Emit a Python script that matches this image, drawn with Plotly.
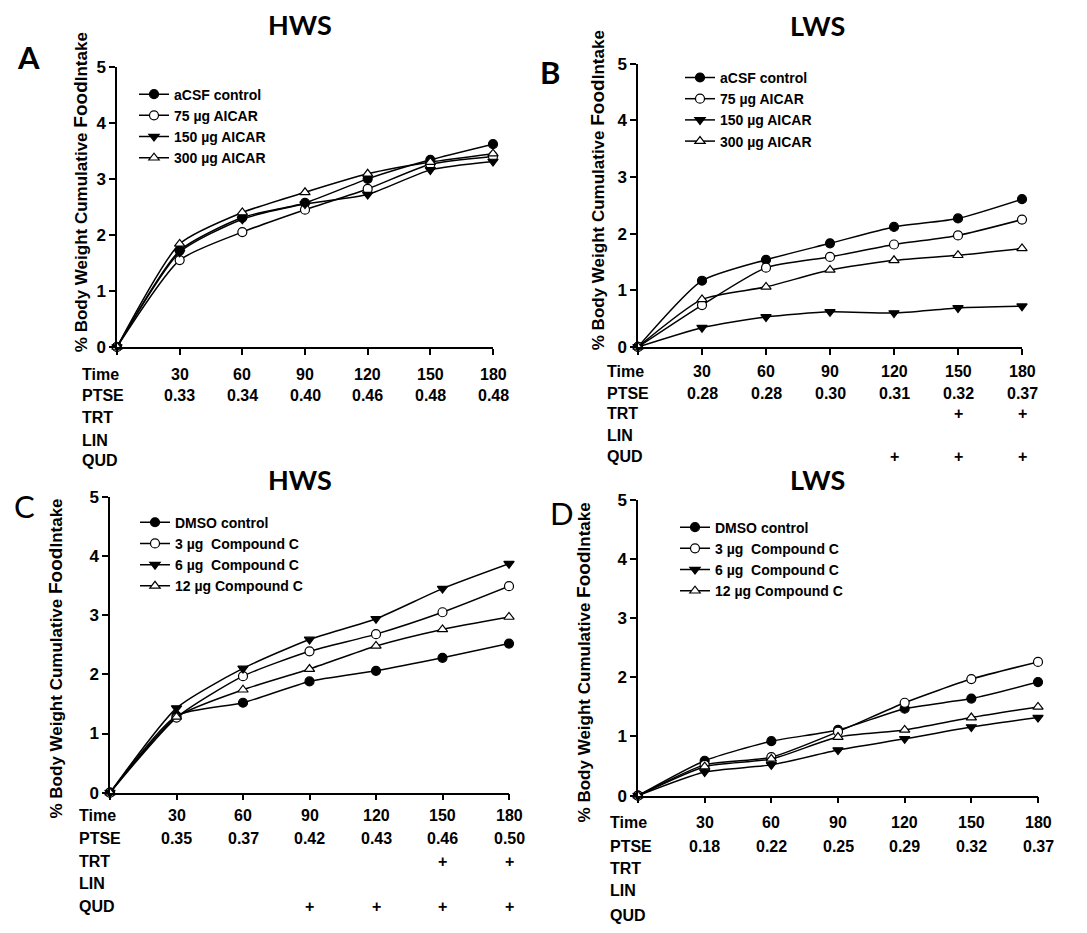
import plotly.graph_objects as go

W, H = 1087, 933

# ---------------- data ----------------
times = [0, 30, 60, 90, 120, 150, 180]
time_labels = ["30", "60", "90", "120", "150", "180"]

# Panel A (HWS, AICAR)
a_names = ["aCSF control", "75 µg AICAR", "150 µg AICAR", "300 µg AICAR"]
a_ctrl = [0, 1.72, 2.31, 2.57, 3.00, 3.34, 3.62]
a_75 = [0, 1.55, 2.05, 2.45, 2.82, 3.26, 3.40]
a_150 = [0, 1.69, 2.28, 2.55, 2.72, 3.16, 3.31]
a_300 = [0, 1.84, 2.40, 2.76, 3.09, 3.30, 3.45]
a_ptse = ["0.33", "0.34", "0.40", "0.46", "0.48", "0.48"]
a_trt = ["", "", "", "", "", ""]
a_lin = ["", "", "", "", "", ""]
a_qud = ["", "", "", "", "", ""]

# Panel B (LWS, AICAR)
b_names = ["aCSF control", "75 µg AICAR", "150 µg AICAR", "300 µg AICAR"]
b_ctrl = [0, 1.17, 1.54, 1.83, 2.12, 2.27, 2.61]
b_75 = [0, 0.74, 1.40, 1.59, 1.81, 1.97, 2.25]
b_150 = [0, 0.34, 0.53, 0.62, 0.60, 0.69, 0.72]
b_300 = [0, 0.84, 1.06, 1.36, 1.53, 1.62, 1.74]
b_ptse = ["0.28", "0.28", "0.30", "0.31", "0.32", "0.37"]
b_trt = ["", "", "", "", "+", "+"]
b_lin = ["", "", "", "", "", ""]
b_qud = ["", "", "", "+", "+", "+"]

# Panel C (HWS, Compound C)
c_names = ["DMSO control", "3 µg  Compound C", "6 µg  Compound C", "12 µg Compound C"]
c_ctrl = [0, 1.30, 1.52, 1.88, 2.06, 2.28, 2.52]
c_3 = [0, 1.27, 1.97, 2.39, 2.68, 3.05, 3.49]
c_6 = [0, 1.43, 2.10, 2.59, 2.94, 3.45, 3.87]
c_12 = [0, 1.28, 1.74, 2.09, 2.48, 2.76, 2.97]
c_ptse = ["0.35", "0.37", "0.42", "0.43", "0.46", "0.50"]
c_trt = ["", "", "", "", "+", "+"]
c_lin = ["", "", "", "", "", ""]
c_qud = ["", "", "+", "+", "+", "+"]

# Panel D (LWS, Compound C)
d_names = ["DMSO control", "3 µg  Compound C", "6 µg  Compound C", "12 µg Compound C"]
d_ctrl = [0, 0.59, 0.92, 1.11, 1.47, 1.64, 1.92]
d_3 = [0, 0.52, 0.65, 1.08, 1.57, 1.97, 2.26]
d_6 = [0, 0.40, 0.52, 0.77, 0.96, 1.16, 1.32]
d_12 = [0, 0.49, 0.62, 0.99, 1.11, 1.32, 1.50]
d_ptse = ["0.18", "0.22", "0.25", "0.29", "0.32", "0.37"]
d_trt = ["", "", "", "", "", ""]
d_lin = ["", "", "", "", "", ""]
d_qud = ["", "", "", "", "", ""]

row_names = ["Time", "PTSE", "TRT", "LIN", "QUD"]
panel_letters = ["A", "B", "C", "D"]
panel_titles = ["HWS", "LWS", "HWS", "LWS"]
ytitle = "% Body Weight Cumulative <span style='font-size:19px'>Food</span>Intake"

# ---------------- layout helpers (pixels) ----------------
def px(x):
    return x / W

def py(y):
    return 1 - y / H

panels = [
    dict(x0=117, x1=493, y0=345, y5=59, series=[a_ctrl, a_75, a_150, a_300], names=a_names,
         table=[a_ptse, a_trt, a_lin, a_qud], rows_y=[373, 395, 417, 440, 461], row_x=80,
         leg=(134, 71), letter=(28, 49), letterw="bold", title=(300, 16), ytitle=(80, 187)),
    dict(x0=638, x1=1022, y0=345, y5=56, series=[b_ctrl, b_75, b_150, b_300], names=b_names,
         table=[b_ptse, b_trt, b_lin, b_qud], rows_y=[370, 392, 413, 435, 457], row_x=605,
         leg=(680, 54), letter=(550, 64), letterw="bold", title=(817, 17), ytitle=(597, 185)),
    dict(x0=110, x1=509, y0=800, y5=498, series=[c_ctrl, c_3, c_6, c_12], names=c_names,
         table=[c_ptse, c_trt, c_lin, c_qud], rows_y=[823, 847, 870, 893, 916], row_x=77,
         leg=(135, 508), letter=(24, 507), letterw="normal", title=(300, 480), ytitle=(55, 663)),
    dict(x0=638, x1=1038, y0=803, y5=501, series=[d_ctrl, d_3, d_6, d_12], names=d_names,
         table=[d_ptse, d_trt, d_lin, d_qud], rows_y=[830, 855, 877, 900, 925], row_x=608,
         leg=(675, 513), letter=(562, 514), letterw="normal", title=(817, 480), ytitle=(583, 667)),
]

symbols = ["circle", "circle", "triangle-down", "triangle-up"]
fills = ["black", "white", "black", "white"]

FONT = "Liberation Sans, Arial, sans-serif"
TITLEFONT = "Lato, Open Sans, sans-serif"

fig = go.Figure()
annotations = []
layout = {}

for i, p in enumerate(panels):
    k = "" if i == 0 else str(i + 1)
    xa, ya = "x" + k, "y" + k
    legname = "legend" + k
    for j, (vals, name) in enumerate(zip(p["series"], p["names"])):
        fig.add_trace(go.Scatter(
            x=times, y=vals, name=name, mode="lines+markers",
            xaxis=xa, yaxis=ya, legend=legname, cliponaxis=False,
            line=dict(color="black", width=1.5, shape="spline", smoothing=0.6),
            marker=dict(symbol=symbols[j], size=9, color=fills[j],
                        line=dict(color="black", width=1.2)),
        ))
    layout["xaxis" + k] = dict(
        domain=[px(p["x0"]), px(p["x1"])], range=[0, 180], anchor=ya,
        tickvals=times, showticklabels=False, ticks="outside", ticklen=6,
        tickwidth=1.5, tickcolor="black", showline=True, linecolor="black",
        linewidth=1.5, showgrid=False, zeroline=False,
    )
    layout["yaxis" + k] = dict(
        domain=[py(p["y0"]), py(p["y5"])], range=[0, 5], anchor=xa,
        tickvals=[0, 1, 2, 3, 4, 5], ticks="outside", ticklen=6, tickwidth=1.5,
        tickcolor="black", showline=True, linecolor="black", linewidth=1.5,
        showgrid=False, zeroline=False,
        tickfont=dict(family=FONT, size=17, color="black", weight="bold"),
    )
    layout[legname] = dict(
        x=px(p["leg"][0]), y=py(p["leg"][1]), xanchor="left", yanchor="top",
        bgcolor="rgba(0,0,0,0)", borderwidth=0, itemwidth=30,
        font=dict(family=FONT, size=14, color="black", weight="bold"),
        tracegroupgap=0,
    )
    # panel letter
    annotations.append(dict(
        text=panel_letters[i], x=px(p["letter"][0]), y=py(p["letter"][1]),
        xref="paper", yref="paper", showarrow=False, xanchor="center", yanchor="middle",
        font=dict(family=TITLEFONT, size=31, color="black", weight=p["letterw"]),
    ))
    # panel title
    annotations.append(dict(
        text=panel_titles[i], x=px(p["title"][0]), y=py(p["title"][1]),
        xref="paper", yref="paper", showarrow=False, xanchor="center", yanchor="middle",
        font=dict(family=TITLEFONT, size=27, color="black", weight="bold"),
    ))
    # y-axis title
    annotations.append(dict(
        text=ytitle, x=px(p["ytitle"][0]), y=py(p["ytitle"][1]), textangle=-90,
        xref="paper", yref="paper", showarrow=False, xanchor="center", yanchor="middle",
        font=dict(family=FONT, size=17, color="black", weight="bold"),
    ))
    # table row labels
    for r, rn in enumerate(row_names):
        annotations.append(dict(
            text=rn, x=px(p["row_x"]), y=py(p["rows_y"][r]),
            xref="paper", yref="paper", showarrow=False, xanchor="left", yanchor="middle",
            font=dict(family=FONT, size=16, color="black", weight="bold"),
        ))
    # table values
    table_rows = [time_labels] + p["table"]
    for r, row in enumerate(table_rows):
        for c, val in enumerate(row):
            if not val:
                continue
            annotations.append(dict(
                text=val, x=times[c + 1], y=py(p["rows_y"][r]),
                xref=xa, yref="paper", showarrow=False, xanchor="center", yanchor="middle",
                font=dict(family=FONT, size=16, color="black", weight="bold"),
            ))

fig.update_layout(
    width=W, height=H, margin=dict(l=0, r=0, t=0, b=0),
    paper_bgcolor="white", plot_bgcolor="white",
    annotations=annotations, showlegend=True,
    **layout,
)

fig.write_html("out.html")
